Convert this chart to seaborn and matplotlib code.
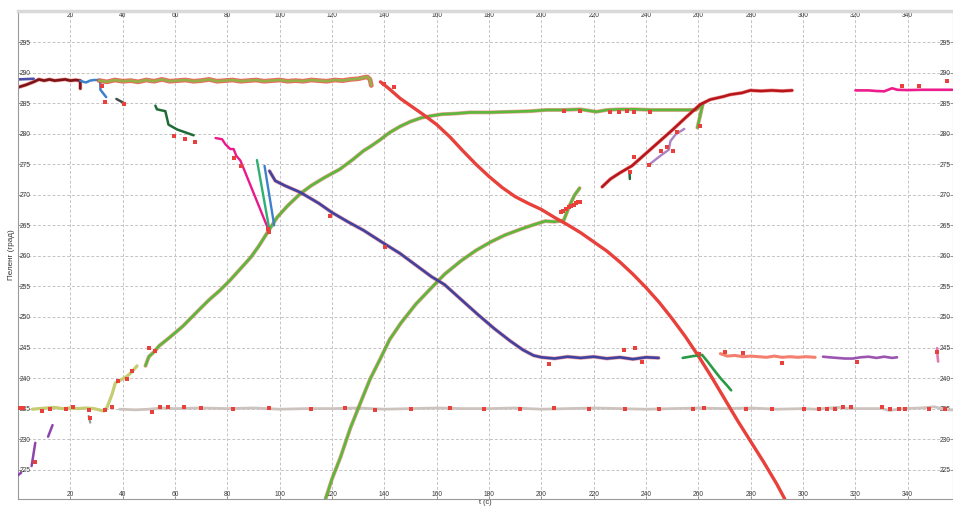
import numpy as np
import pandas as pd
import matplotlib
matplotlib.use("Agg")
import matplotlib.pyplot as plt
import seaborn as sns

# ---------------- data (t in s, bearing in degrees) ----------------
x_ticks = list(range(20, 360, 20))
y_ticks = list(range(225, 300, 5))

blue_top_t = [0, 6]
blue_top_y = [288.9, 289.0]

maroon_t = [0, 3, 6, 8, 10, 12, 14, 16, 18, 20, 22, 23.8, 23.8]
maroon_y = [287.6, 288.0, 288.5, 288.9, 288.7, 288.9, 288.7, 288.8, 288.9, 288.7, 288.8, 288.7, 287.4]

steel_t = [23.8, 25, 26, 27.5, 29, 31.4, 31.5, 33.7]
steel_y = [288.7, 288.5, 288.4, 288.7, 288.8, 288.8, 287.2, 286.0]

olive_t = [31, 34, 37, 40, 43, 46, 49, 52, 55, 58, 61, 64, 67, 70, 73, 76, 79, 82, 85, 88,
           91, 94, 97, 100, 103, 106, 109, 112, 115, 118, 121, 124, 127, 130, 132, 133.5, 134.5, 135]
olive_y = [288.7, 288.5, 288.8, 288.6, 288.7, 288.5, 288.8, 288.6, 288.9, 288.6, 288.7, 288.8, 288.6, 288.7,
           288.9, 288.6, 288.7, 288.8, 288.6, 288.7, 288.8, 288.6, 288.7, 288.8, 288.6, 288.7, 288.6, 288.8,
           288.7, 288.6, 288.8, 288.7, 288.9, 289.0, 289.2, 289.3, 288.9, 287.9]

slate_t = [37.6, 40.6]
slate_y = [285.7, 285.0]

forest_t = [52.5, 53.1, 56.3, 57.5, 60.8, 67.1]
forest_y = [284.6, 284.0, 283.7, 281.5, 280.7, 279.75]

forest2_t = [233.7, 233.8]
forest2_y = [273.5, 272.6]

magenta_t = [75.5, 78, 79.2, 81.1, 82.4, 83.4, 85, 95.8]
magenta_y = [279.3, 279.1, 278.3, 277.5, 277.5, 276.4, 275.6, 264.2]

teal_t = [91.3, 96.1]
teal_y = [275.7, 264.2]

steel2_t = [94.2, 97.9]
steel2_y = [274.75, 265.0]

navy_t = [96.1, 98.3, 102, 107.9, 115, 120, 126, 132, 140, 146, 152, 158, 163, 170, 176, 182, 188,
          193, 197, 200, 205, 210, 215, 220, 225, 230, 235, 240, 244.8]
navy_y = [273.9, 272.3, 271.5, 270.4, 268.6, 267.1, 265.6, 264.2, 262.0, 260.4, 258.5, 256.6, 255.3,
          252.6, 250.3, 248.1, 246.1, 244.6, 243.7, 243.4, 243.2, 243.5, 243.3, 243.5, 243.2, 243.4,
          243.1, 243.4, 243.3]

green_up_t = [48.7, 50, 52, 54, 57.5, 60, 63, 66, 69.7, 73, 77, 81, 85, 89, 92, 95.7, 99, 103, 107.9,
              112, 117, 123, 128, 132, 134.6, 138, 142, 146, 150, 154, 157.5, 162, 167, 172.8, 180, 188,
              195.7, 202, 208, 214.9, 218, 221, 225, 230, 236, 242, 248, 254, 259, 261.7, 259.6]
green_up_y = [242.0, 243.5, 244.3, 245.3, 246.5, 247.4, 248.5, 249.8, 251.4, 252.8, 254.3, 256.0, 257.9,
              259.8, 261.6, 264.1, 266.3, 268.2, 270.2, 271.5, 272.8, 274.2, 275.8, 277.2, 277.9, 278.9,
              280.2, 281.2, 282.0, 282.6, 282.9, 283.2, 283.3, 283.5, 283.5, 283.6, 283.7, 283.9, 283.9,
              284.0, 283.8, 283.6, 283.9, 284.0, 284.0, 283.9, 283.9, 283.9, 283.9, 284.9, 281.0]

green_lo_t = [117.5, 120, 123.2, 127, 130.9, 134.5, 138.6, 142, 146.3, 152, 157.8, 163, 169.3, 175,
              180.7, 186, 192.2, 197, 201.5, 205, 208.5, 210.7, 212.6, 214.6]
green_lo_y = [220.2, 223.5, 227.0, 231.8, 236.0, 239.8, 243.3, 246.3, 249.0, 252.1, 254.7, 257.0, 259.2,
              260.9, 262.3, 263.4, 264.4, 265.1, 265.7, 265.6, 265.8, 268.2, 269.9, 271.1]

red_t = [138.5, 142, 146, 150, 155, 160, 165, 170, 175, 180, 185, 190, 195, 200, 205, 210, 215, 220,
         225, 230, 235, 240, 245, 250, 255, 260, 265, 270, 275, 280, 285, 290, 293]
red_y = [288.5, 287.3, 285.8, 284.6, 283.1, 281.5, 279.5, 277.2, 275.0, 273.0, 271.2, 269.7, 268.6,
         267.6, 266.3, 265.1, 263.8, 262.3, 260.8, 259.0, 257.0, 254.8, 252.4, 249.7, 246.8, 243.6,
         240.2, 236.6, 233.0, 229.6, 226.2, 222.6, 220.2]

crimson_t = [223.2, 226.4, 230, 234.6, 240, 245, 250, 255, 260.7, 264.5, 269.6, 272, 276.7, 279.8,
             284, 288, 292, 295.8]
crimson_y = [271.3, 272.6, 273.6, 274.75, 276.8, 278.7, 280.6, 282.6, 284.8, 285.6, 286.1, 286.4,
             286.7, 287.1, 287.0, 287.1, 287.0, 287.1]

lavender_t = [241, 245.5, 248.7, 249.3, 251.3, 254.6]
lavender_y = [274.9, 276.4, 277.4, 278.8, 279.9, 280.8]

pink_right_t = [320, 325, 328, 331, 334, 336, 340, 345, 350, 357]
pink_right_y = [287.1, 287.1, 287.0, 286.95, 287.45, 287.2, 287.15, 287.2, 287.2, 287.2]

taupe_t = [38.8, 45, 50, 55, 60, 70, 80, 90, 100, 110, 120, 130, 140, 150, 160, 170, 180, 190, 200,
           210, 220, 230, 240, 250, 260, 270, 280, 290, 300, 305, 310, 313, 318, 325, 330, 333, 338,
           345, 350, 355, 360]
taupe_y = [234.9, 234.8, 234.9, 235.1, 235.0, 235.1, 235.0, 235.1, 234.9, 235.0, 235.0, 235.1, 234.9,
           235.0, 235.1, 235.0, 235.0, 235.1, 234.9, 235.0, 235.1, 235.0, 234.9, 235.0, 235.1, 235.0,
           235.1, 234.9, 235.0, 234.9, 235.1, 235.2, 235.0, 235.0, 235.0, 234.7, 235.0, 235.1, 235.3,
           234.8, 234.8]

khaki_t = [5.5, 8, 11, 14, 17, 20, 23, 26, 29, 31, 32.7, 34, 35.9, 37.2, 38.5, 39.7, 41.7, 43.5, 45.5]
khaki_y = [234.9, 235.0, 235.1, 235.2, 235.0, 235.1, 235.0, 235.1, 235.0, 234.8, 234.6, 235.2, 237.3,
           239.2, 239.5, 239.8, 240.3, 241.0, 242.0]

purple_a_t = [0, 1.2]
purple_a_y = [224.1, 224.5]
purple_b_t = [5.2, 6.6]
purple_b_y = [225.6, 229.4]
purple_c_t = [11.5, 13.2]
purple_c_y = [230.4, 232.3]

gray_small_t = [27.0, 27.6]
gray_small_y = [233.8, 232.7]

green_dark_t = [254, 258, 261.4, 263.5, 266, 268.4, 270.5, 272.5]
green_dark_y = [243.3, 243.6, 243.8, 242.7, 241.3, 240.0, 239.0, 238.0]

salmon_t = [268.4, 271, 274, 277, 280, 283, 286, 289, 292, 295, 298, 301, 304.6]
salmon_y = [244.0, 243.6, 243.7, 243.5, 243.6, 243.5, 243.4, 243.6, 243.4, 243.5, 243.4, 243.5, 243.4]

violet_t = [307.6, 310, 313, 316, 319, 322, 325, 328, 331, 334, 335.9]
violet_y = [243.5, 243.4, 243.3, 243.2, 243.2, 243.4, 243.5, 243.3, 243.5, 243.3, 243.4]

edge_t = [351.2, 351.4, 351.6]
edge_y = [244.9, 243.5, 242.7]

dash_red_t = [207.3, 208.4, 209.5, 210.5, 211.5, 212.4, 213.3, 214.1, 214.9]
dash_red_y = [267.2, 267.4, 267.7, 268.0, 268.2, 268.4, 268.6, 268.8, 268.9]

dots_t = [0.2, 9.2, 12.3, 18.2, 21.2, 27.2, 27.6, 33.4, 35.9, 51.2, 54.4, 57.5, 63.3, 70, 82, 96, 112,
          125, 136.6, 150, 165, 178, 192, 205, 218, 232, 245, 258, 262, 278, 288, 300.2, 306, 309.1,
          312, 315.2, 318.3, 330.2, 333.3, 336.5, 339, 348.2, 354.1,
          32.1, 33.4, 40.6, 59.5, 63.9, 67.5, 82.4, 85.3, 96.1, 95.5, 119.3, 140.4, 203, 231.4, 235.6,
          238.4, 292, 320.6, 270, 277, 337.9, 344.4, 354.9, 208.5, 214.6, 226.4, 229.5, 232.7, 235.2,
          241.6, 235.2, 245.7, 248, 251.8, 250.3, 260.7, 241, 233.9, 49.9, 52.5, 43.6, 38.4, 41.6,
          260.3, 351.3, 140.0, 143.5, 6.5, 2.0]
dots_y = [235.1, 234.6, 234.9, 234.9, 235.2, 234.8, 233.5, 234.7, 235.2, 234.5, 235.3, 235.2, 235.3,
          235.1, 235.0, 235.1, 234.9, 235.1, 234.7, 235.0, 235.1, 234.9, 235.0, 235.1, 235.0, 235.0,
          234.9, 235.0, 235.1, 235.0, 234.9, 235.0, 235.0, 235.0, 235.0, 235.2, 235.2, 235.2, 234.9,
          235.0, 235.0, 235.0, 235.0,
          287.8, 285.2, 284.8, 279.6, 279.1, 278.7, 276.1, 274.75, 263.9, 264.4, 266.6, 261.5, 242.3,
          244.6, 245.0, 242.7, 242.5, 242.7, 244.3, 244.1, 287.9, 287.9, 288.7, 283.7, 283.7, 283.6,
          283.6, 283.7, 283.6, 283.6, 276.2, 277.2, 277.9, 280.3, 277.2, 281.3, 274.9, 273.7, 244.9,
          244.4, 241.1, 239.5, 239.9, 244.0, 244.2, 288.2, 287.6, 226.2, 235.1]

# ---------------- figure ----------------
sns.set_style("white")
plt.rcParams["font.family"] = ["Liberation Sans", "DejaVu Sans"]

W, H = 954, 508
LEFT, RIGHT, TOP, BOTTOM = 18, 953, 11, 499
fig = plt.figure(figsize=(W / 100, H / 100), dpi=100)
ax = fig.add_axes([LEFT / W, (H - BOTTOM) / H, (RIGHT - LEFT) / W, (BOTTOM - TOP) / H])

RED = "#e8403a"


def track(t, y, color, lw, under=None, ulw=None, ualpha=0.8, z=2.0):
    if under is not None:
        sns.lineplot(x=t, y=y, sort=False, estimator=None, color=under, lw=ulw if ulw else lw + 1.0,
                     alpha=ualpha, ax=ax, zorder=z, solid_capstyle="round", solid_joinstyle="round")
    sns.lineplot(x=t, y=y, sort=False, estimator=None, color=color, lw=lw, ax=ax, zorder=z + 0.1,
                 solid_capstyle="round", solid_joinstyle="round")


track(taupe_t, taupe_y, "#cdc3be", 2.0, z=2.0)
track(khaki_t, khaki_y, "#c6cc72", 2.3, z=2.1)
track(maroon_t, maroon_y, "#7d1418", 1.9, under=RED, ulw=2.8, ualpha=0.5, z=2.2)
track(blue_top_t, blue_top_y, "#4b4fa8", 1.9, z=2.3)
track(steel_t, steel_y, "#3d82c8", 1.8, z=2.3)
track(olive_t, olive_y, "#98af48", 2.0, under=RED, ulw=3.4, ualpha=0.8, z=2.4)
track(slate_t, slate_y, "#434c44", 1.8, z=2.5)
track(forest_t, forest_y, "#1f6b35", 1.8, z=2.5)
track(forest2_t, forest2_y, "#1f6b35", 1.8, z=2.5)
track(purple_a_t, purple_a_y, "#8e44ad", 1.8, z=2.5)
track(purple_b_t, purple_b_y, "#8e44ad", 1.8, z=2.5)
track(purple_c_t, purple_c_y, "#8e44ad", 1.8, z=2.5)
track(gray_small_t, gray_small_y, "#9a9a9a", 1.6, z=2.5)
track(green_up_t, green_up_y, "#5cb83a", 1.9, under=RED, ulw=2.8, ualpha=0.5, z=2.6)
track(green_lo_t, green_lo_y, "#5cb83a", 1.9, under=RED, ulw=2.8, ualpha=0.5, z=2.6)
track(navy_t, navy_y, "#3f42a0", 1.9, under=RED, ulw=2.8, ualpha=0.45, z=2.7)
track(magenta_t, magenta_y, "#e9198c", 1.7, z=2.8)
track(teal_t, teal_y, "#2fb072", 1.7, z=2.8)
track(steel2_t, steel2_y, "#3d82c8", 1.7, z=2.8)
track(red_t, red_y, RED, 2.4, z=2.9)
track(crimson_t, crimson_y, "#b5151b", 1.8, under=RED, ulw=2.7, ualpha=0.55, z=3.0)
track(lavender_t, lavender_y, "#ab82c4", 1.7, z=3.0)
track(pink_right_t, pink_right_y, "#ec1c8c", 1.9, z=3.0)
track(green_dark_t, green_dark_y, "#2a9a45", 1.9, z=3.1)
track(salmon_t, salmon_y, "#f47f6e", 2.2, z=3.0)
track(violet_t, violet_y, "#9b55b0", 1.9, z=3.0)
track(edge_t, edge_y, "#e07ab0", 1.9, z=3.0)

sns.scatterplot(x=dash_red_t, y=dash_red_y, color=RED, marker="s", s=7, linewidth=0, ax=ax, zorder=4)
sns.scatterplot(x=dots_t, y=dots_y, color=RED, marker="s", s=7, linewidth=0, ax=ax, zorder=4)

ax.set_xlim(0, (RIGHT - LEFT) / 2.617)
ax.set_ylim(220.2, 300.1)
ax.set_xticks(x_ticks)
ax.set_yticks(y_ticks)

ax.grid(True, color="#c4c4c4", linestyle=(0, (3, 2)), lw=0.7)
ax.set_axisbelow(True)

ax.tick_params(axis="both", which="major", direction="in", length=2.0, width=0.6, colors="#888888",
               labelcolor="#3a3a3a", labelsize=4.8)
ax.tick_params(axis="x", top=True, labeltop=True, bottom=True, labelbottom=True, pad=-0.8)
ax.tick_params(axis="y", left=True, labelleft=True, right=True, labelright=True, pad=-1.5)
for tk in ax.xaxis.get_major_ticks():
    tk.label1.set_verticalalignment("bottom")
    tk.label2.set_verticalalignment("top")
for tk in ax.yaxis.get_major_ticks():
    tk.label1.set_horizontalalignment("left")
    tk.label2.set_horizontalalignment("right")

ax.set_ylabel("Пеленг (град)", fontsize=5.8, color="#333333", labelpad=2.5)
ax.set_xlabel("t (с)", fontsize=5.3, color="#333333", labelpad=0.3)

for s in ["left", "bottom", "right"]:
    ax.spines[s].set_color("#9a9a9a")
    ax.spines[s].set_linewidth(0.8)
ax.spines["top"].set_color("#d9d9d9")
ax.spines["top"].set_linewidth(2.5)

fig.savefig("out.png", dpi=100)
